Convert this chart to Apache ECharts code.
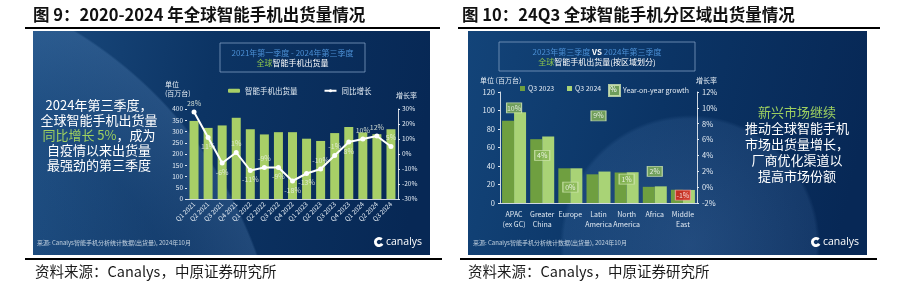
<!DOCTYPE html>
<html>
<head>
<meta charset="utf-8">
<script src="https://cdn.jsdelivr.net/npm/echarts@6/dist/echarts.min.js"></script>
<style>
  html, body { margin: 0; padding: 0; background: #fff; }
  #main { width: 900px; height: 282px; }
</style>
</head>
<body>
<div id="main"></div>
<script>
// 图9：季度出货量与同比增长
const quarters = ['Q1 2021', 'Q2 2021', 'Q3 2021', 'Q4 2021', 'Q1 2022', 'Q2 2022', 'Q3 2022', 'Q4 2022',
  'Q1 2023', 'Q2 2023', 'Q3 2023', 'Q4 2023', 'Q1 2024', 'Q2 2024', 'Q3 2024']
const shipments = [347, 316, 327, 361, 310, 287, 297, 297, 268, 258, 293, 320, 296, 288, 310]
const yoyGrowth = [28, 11, -6, 1, -11, -9, -9, -18, -13, -10, -1, 8, 10, 12, 5]
const shipmentTicks = [0, 400, 50]
const growthTicks = [-30, 30, 10]

// 图10：分区域出货量
const regions = ['APAC\n(ex GC)', 'Greater\nChina', 'Europe', 'Latin\nAmerica', 'North\nAmerica', 'Africa', 'Middle\nEast']
const q3y2023 = [89, 69, 37.5, 31, 33, 17.5, 14.3]
const q3y2024 = [98, 72, 37.5, 34, 33.3, 18, 14.1]
const regionGrowth = [10, 4, 0, 9, 1, 2, -1]
const regionTicks = [0, 120, 20]
const regionGrowthTicks = [-2, 12, 2]

// 折线标签的上下位置（样式）
const labelSide = ['top', 'bottom', 'bottom', 'top', 'bottom', 'top', 'bottom', 'bottom',
  'bottom', 'top', 'top', 'bottom', 'top', 'top', 'top']

const F = '"Noto Sans CJK SC", "Noto Sans", sans-serif'
const LABEL = '#e3ebf3'

const chart = echarts.init(document.getElementById('main'))

function txt (x, y, text, style, z) {
  return {
    type: 'text', x, y, z: z || 50, silent: true,
    style: Object.assign({
      text, fontFamily: F, fontSize: 8, fill: '#fff',
      align: 'left', verticalAlign: 'middle', textAlign: 'left', textVerticalAlign: 'middle'
    }, style)
  }
}
function bar (x, y, w, h) {
  return { type: 'rect', z: 50, silent: true, shape: { x, y, width: w, height: h }, style: { fill: '#000' } }
}
function logo (x, y) {
  return [
    { type: 'sector', z: 50, silent: true, shape: { cx: x, cy: y, r: 5, r0: 2.2, startAngle: 0.5, endAngle: 0.5 + Math.PI * 1.6 }, style: { fill: '#fff' } },
    txt(x + 7, y, 'canalys', { fontSize: 10.5, fontFamily: '"Open Sans", sans-serif', fill: '#fff' })
  ]
}
function legendAt (name, left, top, size) {
  return {
    data: [name], left, top, padding: 0, icon: 'rect', itemWidth: size, itemHeight: size, itemGap: 4,
    selectedMode: false, textStyle: { color: LABEL, fontSize: 7, fontFamily: F, padding: [0, 0, 0, -2] }
  }
}

const graphics = [
  // 标题与分隔线
  txt(33, 15, '图 9：2020-2024 年全球智能手机出货量情况', { fontSize: 16.5, fontWeight: 'bold', fill: '#111' }),
  txt(462, 15, '图 10：24Q3 全球智能手机分区域出货量情况', { fontSize: 16.5, fontWeight: 'bold', fill: '#111' }),
  bar(25, 27, 415, 2), bar(458, 27, 422, 2),
  bar(25, 258, 417, 2), bar(460, 258, 417, 2),
  txt(35, 271, '资料来源：Canalys，中原证券研究所', { fontSize: 14.5, fill: '#1a1a1a' }),
  txt(468, 271, '资料来源：Canalys，中原证券研究所', { fontSize: 14.5, fill: '#1a1a1a' }),

  // 深蓝背景
  {
    type: 'rect', z: -10, silent: true, shape: { x: 33, y: 31, width: 397, height: 224 },
    style: { fill: new echarts.graphic.LinearGradient(0, 0, 1, 0.3, [
      { offset: 0, color: '#1a4a7e' }, { offset: 0.45, color: '#0c3464' }, { offset: 1, color: '#072855' }]) }
  },
  {
    type: 'rect', z: -9, silent: true, shape: { x: 33, y: 31, width: 397, height: 224 },
    style: { fill: new echarts.graphic.RadialGradient(-150, 400, 433, [
      { offset: 0, color: 'rgba(150,200,255,0)' }, { offset: 0.8, color: 'rgba(150,200,255,0.06)' },
      { offset: 0.995, color: 'rgba(150,200,255,0.16)' }, { offset: 1, color: 'rgba(150,200,255,0)' }], true) }
  },
  {
    type: 'rect', z: -10, silent: true, shape: { x: 468, y: 31, width: 399, height: 224 },
    style: { fill: new echarts.graphic.LinearGradient(0, 0, 1, 0.4, [
      { offset: 0, color: '#134479' }, { offset: 0.5, color: '#0b3465' }, { offset: 1, color: '#072856' }]) }
  },
  {
    type: 'rect', z: -9, silent: true, shape: { x: 468, y: 31, width: 399, height: 224 },
    style: { fill: new echarts.graphic.RadialGradient(690, 245, 130, [
      { offset: 0, color: 'rgba(120,170,230,0.22)' }, { offset: 0.97, color: 'rgba(120,170,230,0.12)' },
      { offset: 1, color: 'rgba(120,170,230,0)' }], true) }
  },

  // 标题框
  { type: 'rect', z: 50, silent: true, shape: { x: 220, y: 43, width: 145, height: 29 }, style: { fill: 'none', stroke: '#7d9dc0', lineWidth: 0.8 } },
  txt(292.5, 53, '2021年第一季度 - 2024年第三季度', { fontSize: 8, fill: '#4b8fd4', align: 'center', textAlign: 'center' }),
  txt(292.5, 63, '{g|全球}智能手机出货量', { fontSize: 8, fill: '#fff', align: 'center', textAlign: 'center',
    rich: { g: { fill: '#8cc44e', fontSize: 8, fontFamily: F } } }),
  { type: 'rect', z: 50, silent: true, shape: { x: 499, y: 42, width: 196, height: 29 }, style: { fill: 'none', stroke: '#7d9dc0', lineWidth: 0.8 } },
  txt(597, 52, '2023年第三季度 {w|VS} 2024年第三季度', { fontSize: 8, fill: '#4b8fd4', align: 'center', textAlign: 'center',
    rich: { w: { fill: '#fff', fontWeight: 'bold', fontSize: 8, fontFamily: F } } }),
  txt(597, 62, '{g|全球}智能手机出货量(按区域划分)', { fontSize: 8, fill: '#fff', align: 'center', textAlign: 'center',
    rich: { g: { fill: '#8cc44e', fontSize: 8, fontFamily: F } } }),

  // 说明文字
  txt(99, 97.5, '2024年第三季度，\n全球智能手机出货量\n{g|同比增长 5%}，成为\n自疫情以来出货量\n最强劲的第三季度', {
    fontSize: 13, lineHeight: 15, fill: '#fff', align: 'center', textAlign: 'center', verticalAlign: 'top', textVerticalAlign: 'top',
    rich: { g: { fill: '#9ed060', fontSize: 13, lineHeight: 15, fontFamily: F } }
  }),
  txt(797, 104, '{g|新兴市场继续}\n推动全球智能手机\n市场出货量增长，\n厂商优化渠道以\n提高市场份额', {
    fontSize: 13, lineHeight: 16, fill: '#fff', align: 'center', textAlign: 'center', verticalAlign: 'top', textVerticalAlign: 'top',
    rich: { g: { fill: '#9ed060', fontSize: 13, lineHeight: 16, fontFamily: F } }
  }),

  // 轴名称
  txt(165, 80, '单位\n(百万台)', { fontSize: 7, lineHeight: 9, fill: LABEL, verticalAlign: 'top', textVerticalAlign: 'top' }),
  txt(396, 95, '增长率', { fontSize: 7, fill: LABEL }),
  txt(480, 80, '单位 (百万台)', { fontSize: 7, fill: LABEL }),
  txt(696, 80, '增长率', { fontSize: 7, fill: LABEL }),
  txt(613.5, 89.5, '%', { fontSize: 7, fill: '#fff', align: 'center', textAlign: 'center' }, 60),

  // 来源与标志
  txt(37, 243, '来源: Canalys智能手机分析统计数据(出货量), 2024年10月', { fontSize: 6, fill: 'rgba(220,230,240,0.85)' }),
  txt(473, 243, '来源: Canalys智能手机分析统计数据(出货量), 2024年10月', { fontSize: 6, fill: 'rgba(220,230,240,0.85)' })
].concat(logo(379, 242), logo(816, 242))

const axisLabel = { color: LABEL, fontSize: 6.5, fontFamily: F }

const option = {
  animation: false,
  graphic: graphics,
  legend: [
    {
      data: ['智能手机出货量', '同比增长'], left: 228, top: 87, padding: 0, itemWidth: 12, itemHeight: 4, itemGap: 26,
      selectedMode: false, textStyle: { color: LABEL, fontSize: 7.5, fontFamily: F }
    },
    legendAt('Q3 2023', 520, 85, 5),
    legendAt('Q3 2024', 567, 85, 5),
    legendAt('Year-on-year growth', 608, 84, 11)
  ],
  grid: [
    { left: 187, top: 109, width: 211, height: 90 },
    { left: 500, top: 92, width: 197, height: 111 }
  ],
  xAxis: [
    {
      gridIndex: 0, type: 'category', data: quarters,
      axisLine: { lineStyle: { color: 'rgba(255,255,255,0.8)', width: 1 } },
      axisTick: { show: false },
      axisLabel: Object.assign({}, axisLabel, { rotate: 45, interval: 0, margin: 4 })
    },
    {
      gridIndex: 1, type: 'category', data: regions,
      axisLine: { lineStyle: { color: 'rgba(255,255,255,0.8)', width: 1 } },
      axisTick: { show: false },
      axisLabel: Object.assign({}, axisLabel, { fontSize: 7, lineHeight: 10, interval: 0, margin: 6 })
    }
  ],
  yAxis: [
    {
      gridIndex: 0, type: 'value', min: shipmentTicks[0], max: shipmentTicks[1], interval: shipmentTicks[2],
      splitLine: { show: false }, axisLine: { show: false },
      axisTick: { show: true, length: 2, lineStyle: { color: LABEL } },
      axisLabel: Object.assign({}, axisLabel, { margin: 4 })
    },
    {
      gridIndex: 0, type: 'value', position: 'right', min: growthTicks[0], max: growthTicks[1], interval: growthTicks[2],
      splitLine: { show: false },
      axisLine: { show: true, lineStyle: { color: 'rgba(255,255,255,0.8)' } },
      axisTick: { show: true, length: 2, lineStyle: { color: LABEL } },
      axisLabel: Object.assign({}, axisLabel, { formatter: '{value}%', margin: 4 })
    },
    {
      gridIndex: 1, type: 'value', min: regionTicks[0], max: regionTicks[1], interval: regionTicks[2],
      splitLine: { show: false },
      axisLine: { show: true, lineStyle: { color: 'rgba(255,255,255,0.8)' } },
      axisTick: { show: true, length: 2, lineStyle: { color: LABEL } },
      axisLabel: Object.assign({}, axisLabel, { fontSize: 7.5, margin: 5 })
    },
    {
      gridIndex: 1, type: 'value', position: 'right', min: regionGrowthTicks[0], max: regionGrowthTicks[1], interval: regionGrowthTicks[2],
      splitLine: { show: false },
      axisLine: { show: true, lineStyle: { color: 'rgba(255,255,255,0.8)' } },
      axisTick: { show: true, length: 2, lineStyle: { color: LABEL } },
      axisLabel: Object.assign({}, axisLabel, { fontSize: 7.5, formatter: '{value}%', margin: 5 })
    }
  ],
  series: [
    {
      name: '智能手机出货量', type: 'bar', xAxisIndex: 0, yAxisIndex: 0,
      data: shipments, barWidth: 9, itemStyle: { color: '#a8cf67' }
    },
    {
      name: '同比增长', type: 'line', xAxisIndex: 0, yAxisIndex: 1,
      data: yoyGrowth.map((v, i) => ({ value: v, label: { position: labelSide[i] } })),
      symbol: 'circle', symbolSize: 5, z: 5,
      itemStyle: { color: '#fff' }, lineStyle: { color: '#fff', width: 2 },
      label: { show: true, formatter: '{c}%', color: 'rgba(232,240,225,0.85)', fontSize: 7, fontFamily: F, distance: 3 }
    },
    {
      name: 'Q3 2023', type: 'bar', xAxisIndex: 1, yAxisIndex: 2,
      data: q3y2023, barWidth: 12, barGap: '0%', itemStyle: { color: '#6f9f40' }
    },
    {
      name: 'Q3 2024', type: 'bar', xAxisIndex: 1, yAxisIndex: 2,
      data: q3y2024, barWidth: 12, barGap: '0%', itemStyle: { color: '#a9d376' }
    },
    {
      name: 'Year-on-year growth', type: 'scatter', xAxisIndex: 1, yAxisIndex: 3, z: 6,
      data: regionGrowth.map(v => v < 0
        ? { value: v, itemStyle: { color: '#d8151c', borderColor: '#f3a0a0' } }
        : v),
      symbol: 'rect', symbolSize: [15, 10],
      itemStyle: { color: '#88b656', borderColor: '#d5eab5', borderWidth: 1 },
      label: { show: true, position: 'inside', formatter: '{c}%', color: '#fff', fontSize: 7, fontFamily: F }
    }
  ]
}

chart.setOption(option)
</script>
</body>
</html>
